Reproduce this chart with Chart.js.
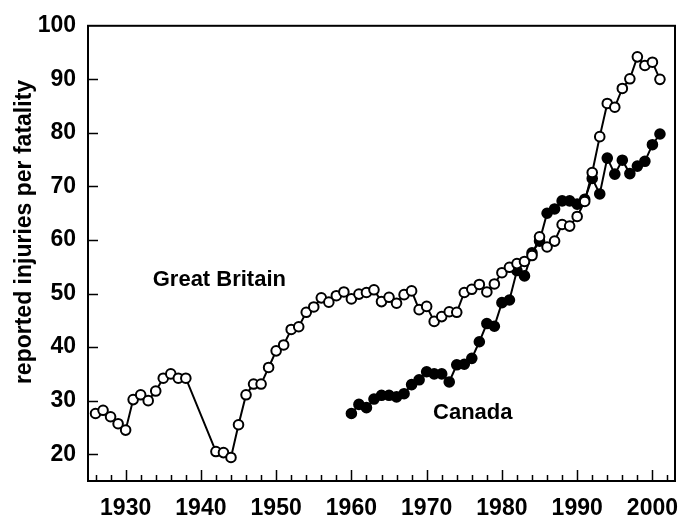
<!DOCTYPE html>
<html>
<head>
<meta charset="utf-8">
<script src="https://cdn.jsdelivr.net/npm/chart.js@4.4.0/dist/chart.umd.min.js"></script>
<style>
  html, body { margin: 0; padding: 0; background: #fff; }
</style>
</head>
<body>
<canvas id="myChart" width="693" height="517"></canvas>
<script>
// Great Britain (no data 1939-1941, line joins 1938 to 1942)
const gbYears = [1926, 1927, 1928, 1929, 1930, 1931, 1932, 1933, 1934, 1935, 1936, 1937, 1938,
  1942, 1943, 1944, 1945, 1946, 1947, 1948, 1949, 1950, 1951, 1952, 1953, 1954, 1955, 1956, 1957,
  1958, 1959, 1960, 1961, 1962, 1963, 1964, 1965, 1966, 1967, 1968, 1969, 1970, 1971, 1972, 1973,
  1974, 1975, 1976, 1977, 1978, 1979, 1980, 1981, 1982, 1983, 1984, 1985, 1986, 1987, 1988, 1989,
  1990, 1991, 1992, 1993, 1994, 1995, 1996, 1997, 1998, 1999, 2000, 2001];
const gbValues = [27.6, 28.2, 27.0, 25.7, 24.5, 30.2, 31.1, 30.0, 31.8, 34.2, 35.0, 34.2, 34.2,
  20.5, 20.3, 19.4, 25.5, 31.1, 33.1, 33.1, 36.2, 39.3, 40.4, 43.3, 43.8, 46.5, 47.5, 49.2, 48.4,
  49.6, 50.3, 49.0, 49.9, 50.2, 50.7, 48.5, 49.3, 48.2, 49.8, 50.5, 47.0, 47.6, 44.8, 45.7, 46.6,
  46.5, 50.2, 50.8, 51.7, 50.3, 51.8, 53.9, 54.9, 55.6, 56.0, 57.1, 60.6, 58.7, 59.8, 62.9, 62.6,
  64.4, 67.2, 72.6, 79.3, 85.5, 84.8, 88.3, 90.1, 94.2, 92.6, 93.2, 90.0];

// Canada
const caYears = [1960, 1961, 1962, 1963, 1964, 1965, 1966, 1967, 1968, 1969, 1970, 1971, 1972,
  1973, 1974, 1975, 1976, 1977, 1978, 1979, 1980, 1981, 1982, 1983, 1984, 1985, 1986, 1987, 1988,
  1989, 1990, 1991, 1992, 1993, 1994, 1995, 1996, 1997, 1998, 1999, 2000, 2001];
const caValues = [27.6, 29.3, 28.7, 30.3, 31.0, 31.0, 30.7, 31.3, 33.0, 33.9, 35.4, 35.0, 35.0,
  33.5, 36.7, 36.8, 37.9, 41.0, 44.4, 43.9, 48.3, 48.8, 54.3, 53.3, 57.6, 59.8, 65.0, 65.8, 67.3,
  67.3, 66.7, 67.6, 71.5, 68.6, 75.3, 72.3, 74.9, 72.4, 73.8, 74.7, 77.8, 79.8];

const xMin = 1925, xMax = 2003;
const yMin = 15, yMax = 100;
const yTitle = "reported injuries per fatality";

const FONT = "'Liberation Sans', Arial, sans-serif";

function toPoints(xs, ys) {
  return xs.map((x, i) => ({ x: x, y: ys[i] }));
}

// frame, inward tick marks, axis title and series labels
const decorations = {
  id: "decorations",
  beforeDatasetsDraw(chart) {
    const ctx = chart.ctx;
    const a = chart.chartArea;
    const xs = chart.scales.x;
    const ys = chart.scales.y;
    ctx.save();
    ctx.strokeStyle = "#000";
    ctx.lineWidth = 2;
    ctx.strokeRect(a.left, a.top, a.right - a.left, a.bottom - a.top);
    ctx.lineWidth = 1.5;
    ctx.beginPath();
    for (let yr = 1926; yr <= 2002; yr += 2) {
      const px = Math.round(xs.getPixelForValue(yr)) + 0.5;
      const len = yr % 10 === 0 ? 11 : 6;
      ctx.moveTo(px, a.bottom);
      ctx.lineTo(px, a.bottom - len);
    }
    for (let v = 20; v < 100; v += 10) {
      const py = Math.round(ys.getPixelForValue(v)) + 0.5;
      ctx.moveTo(a.left, py);
      ctx.lineTo(a.left + 10, py);
    }
    ctx.stroke();
    ctx.restore();
  },
  afterDraw(chart) {
    const ctx = chart.ctx;
    const xs = chart.scales.x;
    const ys = chart.scales.y;
    ctx.save();
    ctx.fillStyle = "#000";
    ctx.font = "bold 22px " + FONT;
    ctx.textBaseline = "alphabetic";
    ctx.textAlign = "left";
    ctx.fillText("Great Britain", xs.getPixelForValue(1933.6), ys.getPixelForValue(51.5));
    ctx.fillText("Canada", xs.getPixelForValue(1970.85), ys.getPixelForValue(26.6));

    ctx.font = "bold 23px " + FONT;
    ctx.translate(25, 232);
    ctx.rotate(-Math.PI / 2);
    ctx.textAlign = "center";
    ctx.textBaseline = "middle";
    ctx.fillText(yTitle, 0, 0);
    ctx.restore();
  }
};

const ctx = document.getElementById("myChart").getContext("2d");
const chart = new Chart(ctx, {
  type: "line",
  data: {
    datasets: [
      {
        label: "Great Britain",
        data: toPoints(gbYears, gbValues),
        borderColor: "#000",
        borderWidth: 2,
        pointRadius: 4.8,
        pointBorderWidth: 2,
        pointBackgroundColor: "#fff",
        pointBorderColor: "#000",
        tension: 0,
        fill: false
      },
      {
        label: "Canada",
        data: toPoints(caYears, caValues),
        borderColor: "#000",
        borderWidth: 2,
        pointRadius: 4.8,
        pointBorderWidth: 2,
        pointBackgroundColor: "#000",
        pointBorderColor: "#000",
        tension: 0,
        fill: false
      }
    ]
  },
  options: {
    responsive: false,
    animation: false,
    layout: { padding: { top: 21, right: 18, left: 0, bottom: 0 } },
    plugins: {
      legend: { display: false },
      tooltip: { enabled: false }
    },
    scales: {
      x: {
        type: "linear",
        min: xMin,
        max: xMax,
        border: { display: false },
        grid: { display: false, drawTicks: false },
        ticks: {
          stepSize: 10,
          includeBounds: false,
          autoSkip: false,
          maxRotation: 0,
          padding: 14,
          color: "#000",
          font: { family: FONT, size: 23, weight: "bold" },
          callback: (v) => (v % 10 === 0 ? String(v) : "")
        },
        afterFit: (scale) => { scale.height = 36; }
      },
      y: {
        min: yMin,
        max: yMax,
        border: { display: false },
        grid: { display: false, drawTicks: false },
        ticks: {
          stepSize: 10,
          includeBounds: false,
          padding: 12,
          color: "#000",
          font: { family: FONT, size: 23, weight: "bold" }
        },
        afterFit: (scale) => { scale.width = 88; }
      }
    }
  },
  plugins: [decorations]
});
</script>
</body>
</html>
